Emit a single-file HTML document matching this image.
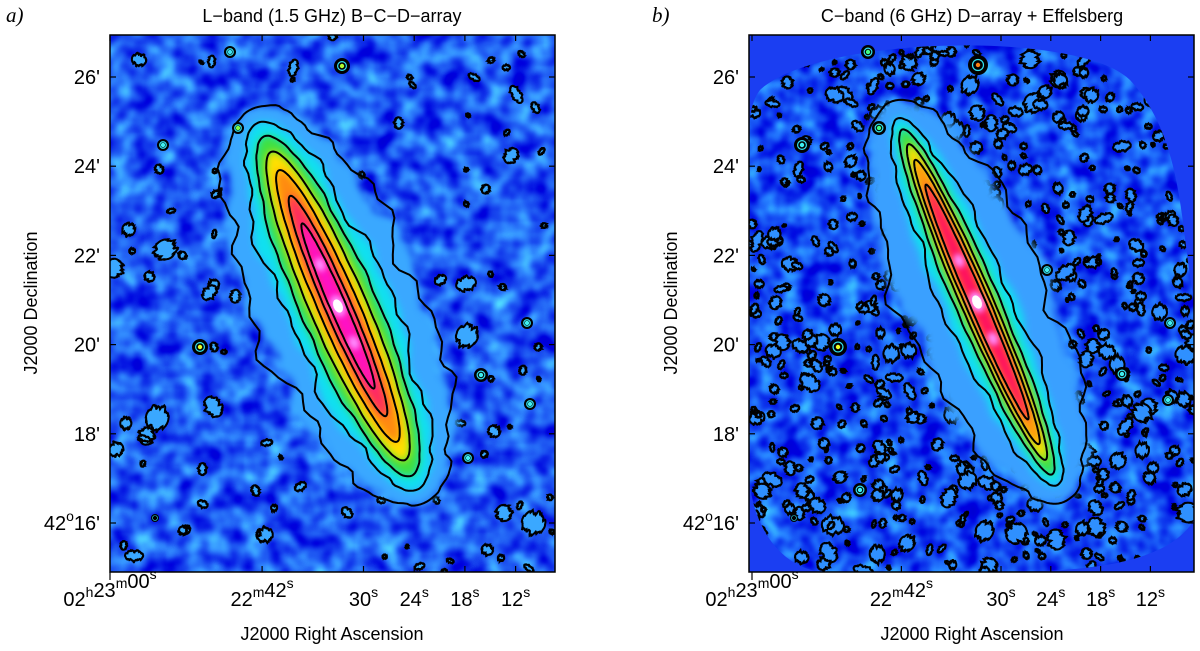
<!DOCTYPE html>
<html><head><meta charset="utf-8">
<style>
html,body{margin:0;padding:0;background:#fff;}
svg{display:block;font-family:"Liberation Sans",sans-serif;}
</style></head>
<body>
<svg id="fig" width="1200" height="651" viewBox="0 0 1200 651">
<defs>
  <filter id="mottle" x="0" y="0" width="100%" height="100%" color-interpolation-filters="sRGB">
    <feTurbulence type="fractalNoise" baseFrequency="0.045" numOctaves="2" seed="7"/>
    <feColorMatrix type="matrix" values="0.5 0 0 0 -0.13  1.3 0 0 0 -0.3  0.3 0 0 0 0.8  0 0 0 0 1"/>
  </filter>
  <filter id="mottle2" x="0" y="0" width="100%" height="100%" color-interpolation-filters="sRGB">
    <feTurbulence type="fractalNoise" baseFrequency="0.05" numOctaves="2" seed="3"/>
    <feColorMatrix type="matrix" values="0.4 0 0 0 -0.12  1.2 0 0 0 -0.3  0.3 0 0 0 0.8  0 0 0 0 1"/>
  </filter>
  <filter id="soft" color-interpolation-filters="sRGB"><feGaussianBlur stdDeviation="4"/></filter>
  <filter id="soft2" color-interpolation-filters="sRGB"><feGaussianBlur stdDeviation="3"/></filter>
  <clipPath id="clipL"><rect x="110" y="35" width="445" height="537"/></clipPath>
  <clipPath id="clipR"><rect x="749" y="35" width="445" height="537"/></clipPath>
  <clipPath id="clipRegion"><path d="M760,90 C820,35 1080,30 1130,80 C1185,140 1180,230 1194,300 L1194,520 C1170,560 1100,572 1000,572 L820,572 C780,565 755,530 749,480 L749,130 C750,115 752,100 760,90 Z"/></clipPath>
</defs>
<text x="6" y="22" font-family="Liberation Serif,serif" font-style="italic" font-size="21">a)</text>
<text x="652" y="22" font-family="Liberation Serif,serif" font-style="italic" font-size="21">b)</text>
<text x="332" y="22" text-anchor="middle" font-size="18">L−band (1.5 GHz) B−C−D−array</text>
<text x="972" y="22" text-anchor="middle" font-size="18">C−band (6 GHz) D−array + Effelsberg</text>

<g id="panelL" clip-path="url(#clipL)">
  <rect x="110" y="35" width="445" height="537" fill="#2255ee" filter="url(#mottle)"/>
  <g id="blobsL"></g>
  <g id="galL"></g>
  <g id="starsL"></g>
</g>
<g id="panelR" clip-path="url(#clipR)">
  <rect x="749" y="35" width="445" height="537" fill="#1b3ef2"/>
  <g clip-path="url(#clipRegion)">
    <rect x="749" y="35" width="445" height="537" fill="#1f4ff0" filter="url(#mottle2)"/>
    <g id="blobsR"></g>
  </g>
  <g id="galR"></g>
  <g id="starsR"></g>
</g>
<rect x="110" y="35" width="445" height="537" fill="none" stroke="#000" stroke-width="1.5"/>
<rect x="749" y="35" width="445" height="537" fill="none" stroke="#000" stroke-width="1.5"/>
<g id="axes"></g>
<text transform="translate(37,303) rotate(-90)" text-anchor="middle" font-size="18">J2000 Declination</text>
<text transform="translate(677,303) rotate(-90)" text-anchor="middle" font-size="18">J2000 Declination</text>
<text x="332" y="640" text-anchor="middle" font-size="18">J2000 Right Ascension</text>
<text x="972" y="640" text-anchor="middle" font-size="18">J2000 Right Ascension</text>
</svg>
<script>
// ---- data ----
const raTickSec = [0, 18, 30, 36, 42, 48];          // seconds before 02h23m00s
const raTickLabels = [["02","h","23","m","00","s"], ["22","m","42","s"], ["30","s"], ["24","s"], ["18","s"], ["12","s"]];
const decTickMin = [26, 24, 22, 20, 18, 16];
const decTickLabels = ["26'", "24'", "22'", "20'", "18'", "42o16'"];
// contour levels: [half-major, half-minor] in px for each panel
const levelsA = [[215,82],[200,52],[185,38],[168,28],[148,20],[120,13],[90,8]];
const levelsB = [[218,72],[200,34],[188,22],[172,16],[155,12],[128,8]];
const fillsA = ["#3aa8ff","#10e0f0","#40e040","#ffe000","#ff8a10","#ff2a60","#ff10c8"];
const fillsB = ["#3aa0ff","#10e0f0","#40e040","#ffe000","#ff9010","#ff1060"];

const NS="http://www.w3.org/2000/svg";
function mk(tag,attrs,parent){const e=document.createElementNS(NS,tag);for(const k in attrs)e.setAttribute(k,attrs[k]);parent.appendChild(e);return e;}
let seed=12345;function rnd(){seed=(seed*16807)%2147483647;return seed/2147483647;}

const pA={x0:110,pxPerSec:8.45}, pB={x0:752,pxPerSec:8.3};
function xRA(p,s){return p.x0+s*p.pxPerSec;}
function yDec(m){return 77+(26-m)*44.6;}

function wobblyPath(cx,cy,a,b,ang,amp){
  const ph=[rnd()*6.28,rnd()*6.28,rnd()*6.28,rnd()*6.28];
  const ca=Math.cos(ang),sa=Math.sin(ang);let d="";
  for(let i=0;i<=160;i++){const t=i/160*2*Math.PI;
    const m=1+amp*(0.5*Math.sin(7*t+ph[0])+0.35*Math.sin(13*t+ph[1])+0.25*Math.sin(23*t+ph[2])+0.2*Math.sin(37*t+ph[3]));
    const u=a*Math.cos(t), v=b*m*Math.sin(t);
    const x=cx+u*ca-v*sa,y=cy+u*sa+v*ca;d+=(i?"L":"M")+x.toFixed(1)+","+y.toFixed(1);}
  return d+"Z";
}
function galaxy(gid,cx,cy,ang,levels,fills){
  const g=document.getElementById(gid);
  const blur=mk("g",{filter:"url(#soft)"},g);
  levels.forEach((l,i)=>{const e=mk("path",{d:wobblyPath(cx,cy,l[0],l[1],ang*Math.PI/180,i<2?0.12:0.02),fill:fills[i]},blur);
    
    });
  const core=mk("g",{filter:"url(#soft2)"},g);
  const a=ang*Math.PI/180;
  [[-45,7,5],[0,11,7],[40,7,5]].forEach(c=>{const x=cx+c[0]*Math.cos(a),y=cy+c[0]*Math.sin(a);
    mk("ellipse",{cx:x,cy:y,rx:c[1],ry:c[2],fill:"#ff90ff",transform:`rotate(${ang} ${x} ${y})`},core);});
  mk("ellipse",{cx:cx,cy:cy,rx:7,ry:4.5,fill:"#fff",transform:`rotate(${ang} ${cx} ${cy})`},g);
  levels.forEach((l,i)=>{const amp=i<2?0.16:(i<3?0.06:0.02);
    const p=mk("path",{d:wobblyPath(cx,cy,l[0],l[1],ang*Math.PI/180,amp),fill:"none",stroke:"#000","stroke-width":2},g);
    
    });
}
galaxy("galL",338,306,66.5,levelsA,fillsA);
galaxy("galR",977,302,66.5,levelsB,fillsB);

function blobs(gid,n,x0,y0,w,h,fill,avoid,maxr){
  const g=document.getElementById(gid);
  for(let i=0;i<n;i++){const x=x0+rnd()*w,y=y0+rnd()*h;
    if(avoid){const dx=x-avoid[0],dy=y-avoid[1];const a=avoid[2]*Math.PI/180;
      const u=dx*Math.cos(a)+dy*Math.sin(a),v=-dx*Math.sin(a)+dy*Math.cos(a);
      if((u*u)/(avoid[3]*avoid[3])+(v*v)/(avoid[4]*avoid[4])<1)continue;}
    const r=2+rnd()*rnd()*maxr;
    mk("path",{d:wobblyPath(x,y,r,r*(0.4+rnd()*0.7),rnd()*3.14,0.3),fill:fill,stroke:"#000","stroke-width":2},g);}
}
blobs("blobsL",110,110,35,445,537,"#3aa8ff",[338,306,66.5,215,85],12);
blobs("blobsR",700,749,35,445,537,"#2f90ff",[977,302,66.5,205,45],10);

function stars(gid,list){const g=document.getElementById(gid);
  list.forEach(s=>{mk("circle",{cx:s[0],cy:s[1],r:s[2],fill:"#000"},g);
    mk("circle",{cx:s[0],cy:s[1],r:s[2]*0.55,fill:"none",stroke:"#30e0f0","stroke-width":1.2},g);
    mk("circle",{cx:s[0],cy:s[1],r:2.2,fill:s[3]},g);});}
stars("starsL",[[342,66,8,"#b0ff30"],[230,52,6,"#40e0f0"],[200,347,8,"#e8ff20"],[163,145,6,"#40f0f0"],[238,128,6,"#80ff40"],[481,375,7,"#40f0f0"],[530,404,6,"#40f0f0"],[527,323,6,"#40f0f0"],[468,458,6,"#40f0f0"],[155,518,4,"#000"]]);
stars("starsR",[[868,52,7,"#40ff80"],[978,65,10,"#ff8010"],[879,128,7,"#40ff80"],[802,145,8,"#40f0f0"],[838,347,9,"#f0ff20"],[1047,270,6,"#40f0f0"],[1122,374,7,"#40f0f0"],[1170,323,6,"#40f0f0"],[1168,400,6,"#40f0f0"],[860,490,7,"#40f0f0"],[794,518,4,"#000"]]);

const ax=document.getElementById("axes");
[[pA,110,555],[pB,749,1194]].forEach((pp)=>{const p=pp[0],L=pp[1],R=pp[2];
  raTickSec.forEach((s,i)=>{const x=xRA(p,s);
    mk("line",{x1:x,y1:572,x2:x,y2:i==0?580:566,stroke:"#000","stroke-width":1.2},ax);
    mk("line",{x1:x,y1:35,x2:x,y2:41,stroke:"#000","stroke-width":1.2},ax);
    const t=mk("text",{x:x,y:606,"text-anchor":"middle","font-size":20},ax);
    
    
    const parts=raTickLabels[i];
    for(let k=0;k<parts.length;k+=2){const a=mk("tspan",{},t);a.textContent=parts[k];
      const b=mk("tspan",{"font-size":14,dy:-9},t);b.textContent=parts[k+1];
      if(k+2<parts.length){const c=mk("tspan",{dy:9},t);c.textContent="";}}
  });
  decTickMin.forEach((m,i)=>{const y=yDec(m);
    mk("line",{x1:L,y1:y,x2:L+6,y2:y,stroke:"#000","stroke-width":1.2},ax);
    mk("line",{x1:R,y1:y,x2:R-6,y2:y,stroke:"#000","stroke-width":1.2},ax);
    const t=mk("text",{x:L-10,y:y+7,"text-anchor":"end","font-size":20},ax);
    
    
    const lab=decTickLabels[i];
    if(lab.indexOf("o")>0){const a=mk("tspan",{},t);a.textContent="42";const b=mk("tspan",{"font-size":14,dy:-9},t);b.textContent="o";const c=mk("tspan",{dy:9},t);c.textContent="16'";}
    else t.textContent=lab;
  });
});
</script>
</body></html>
